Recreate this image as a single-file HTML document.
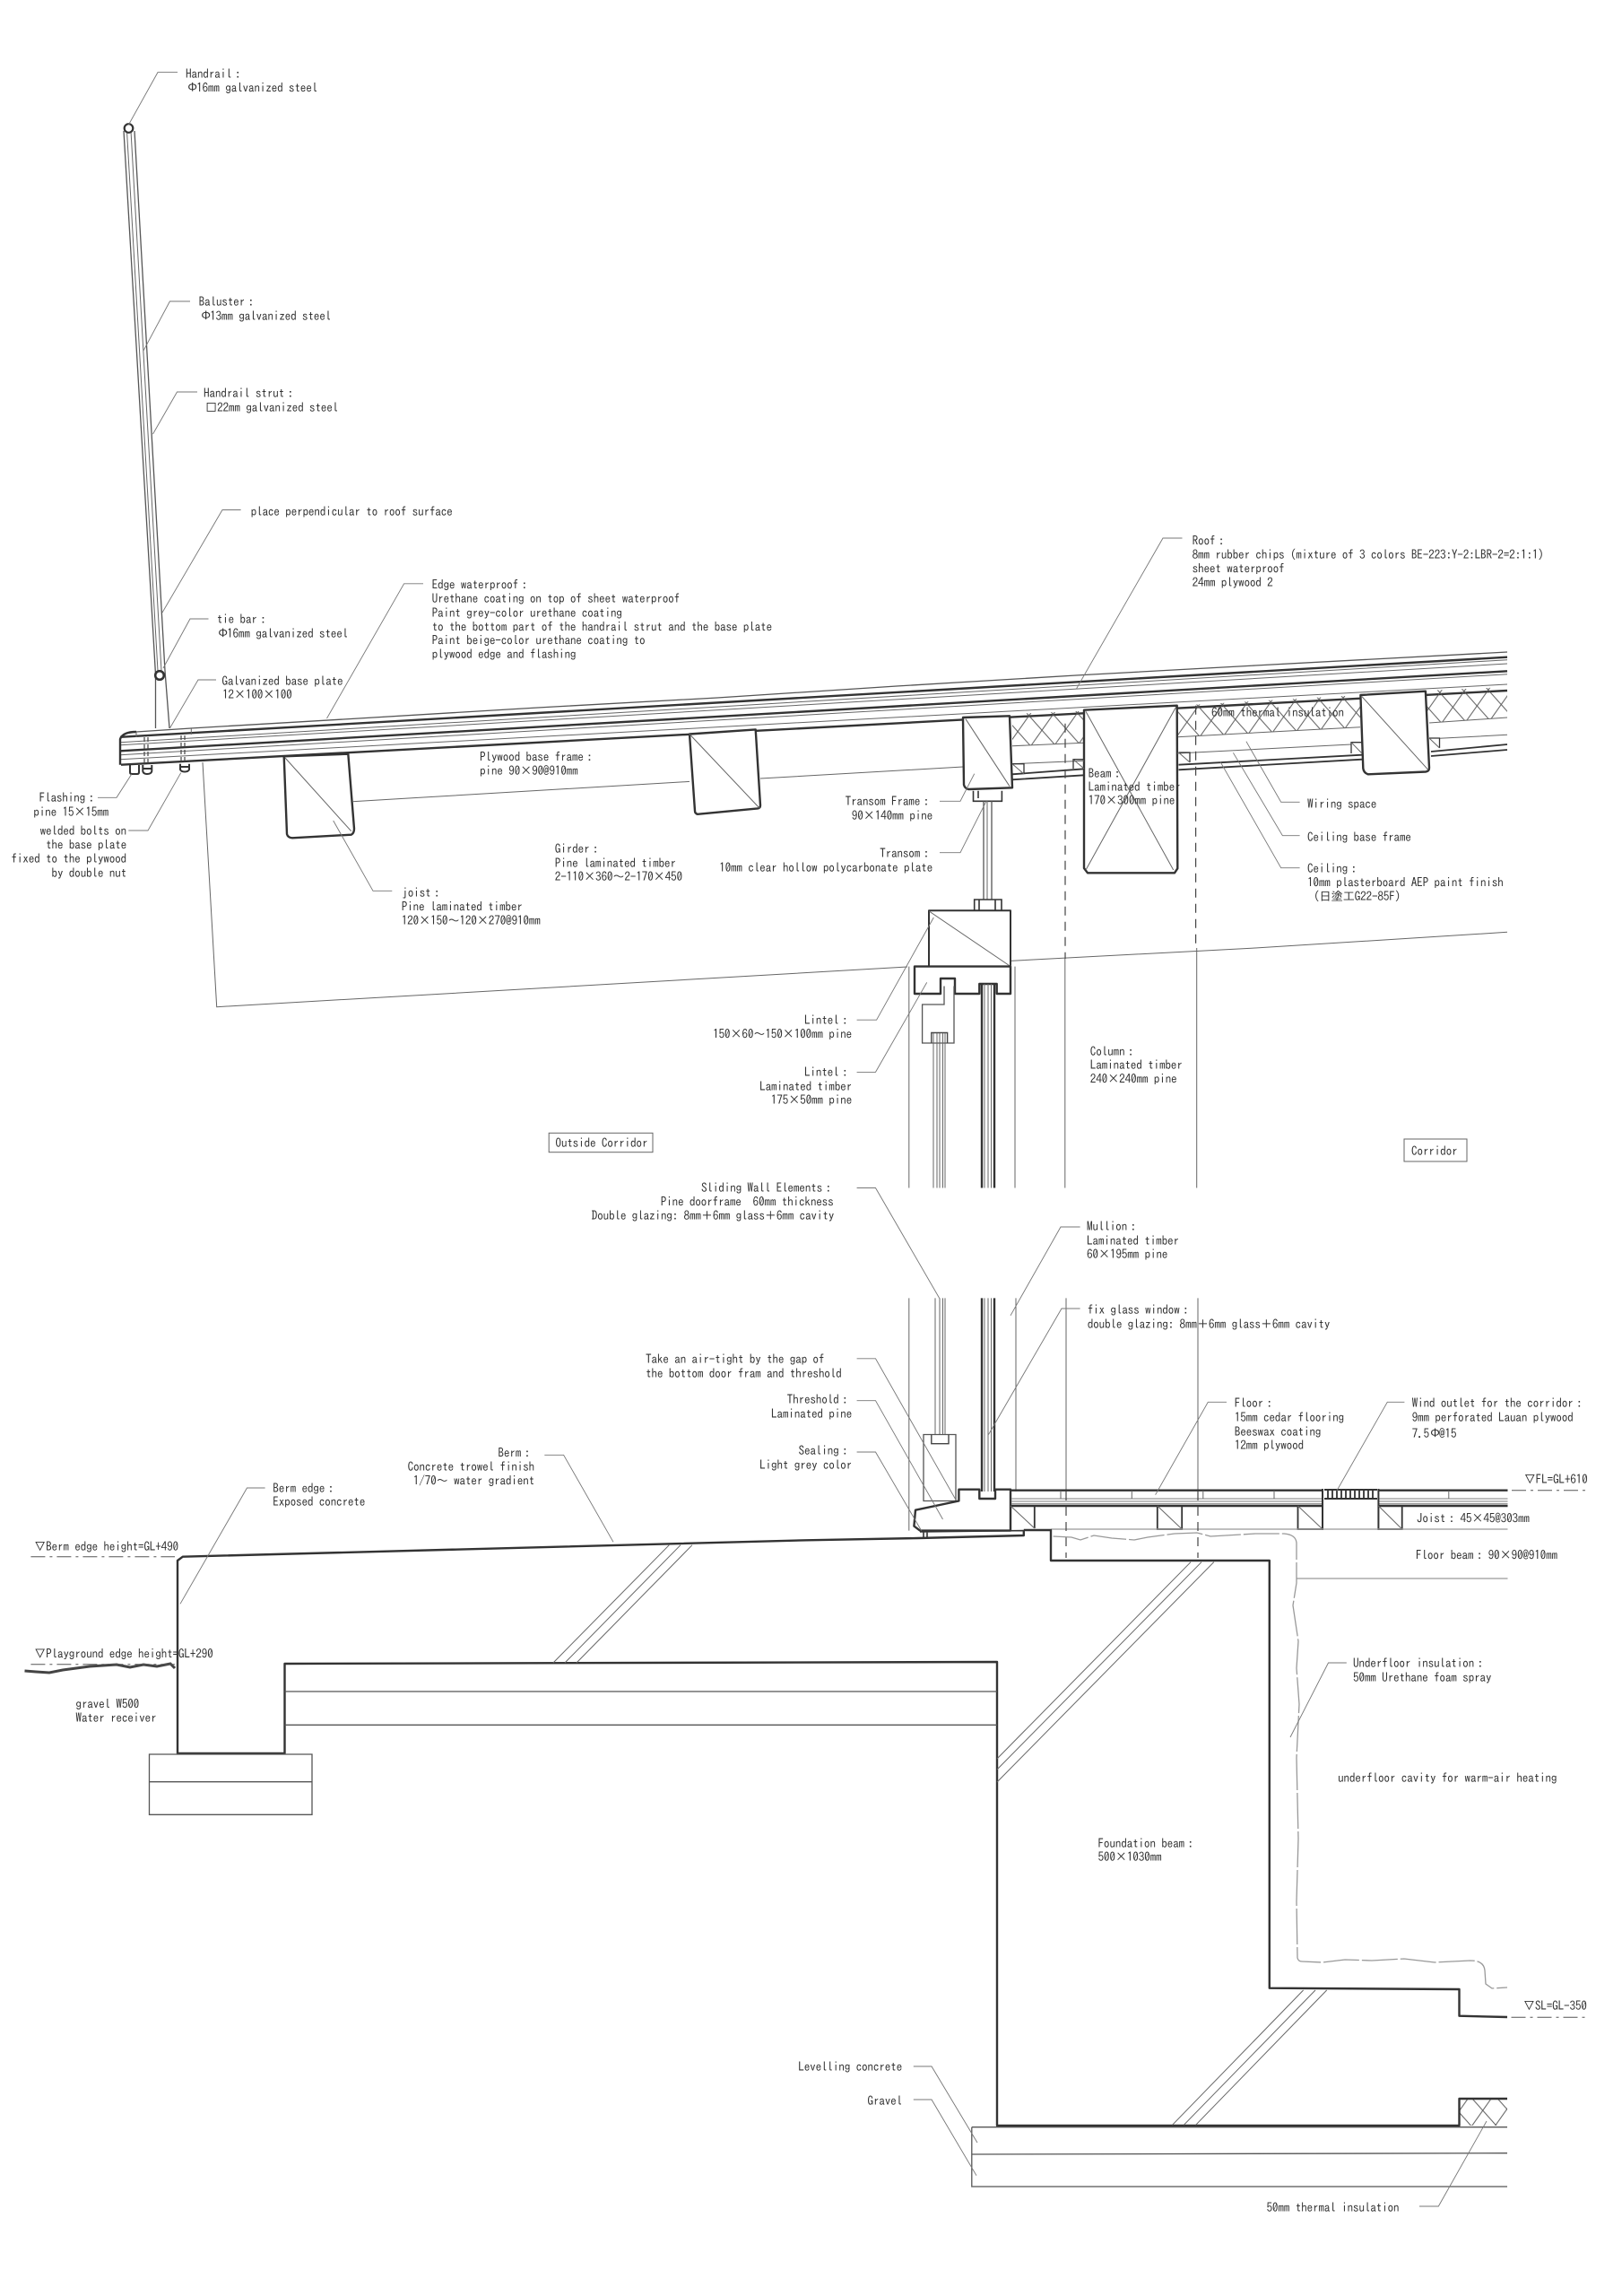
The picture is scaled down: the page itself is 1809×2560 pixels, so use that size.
<!DOCTYPE html>
<html><head><meta charset="utf-8"><title>Section detail</title>
<style>
html,body{margin:0;padding:0;background:#fff}
svg{display:block}
text{font-family:"IPAGothic","Liberation Mono","Noto Sans CJK JP",monospace;font-size:13.3px;letter-spacing:-.22px;fill:#333;white-space:pre}
.e{text-anchor:end}
.t{fill:none;stroke:#666;stroke-width:1}
.l{fill:none;stroke:#777;stroke-width:.9}
.m{fill:none;stroke:#555;stroke-width:1.3}
.h{fill:none;stroke:#333;stroke-width:2.4;stroke-linejoin:round}
.d{fill:none;stroke:#555;stroke-width:1;stroke-dasharray:16 5 3 5}
.v{fill:none;stroke:#444;stroke-width:1.2;stroke-dasharray:10 7}
.g{fill:none;stroke:#999;stroke-width:1.3}
</style></head><body>
<svg xmlns="http://www.w3.org/2000/svg" width="1809" height="2560" viewBox="0 0 1809 2560">
<defs>
<pattern id="x" width="27" height="34" patternUnits="userSpaceOnUse" patternTransform="rotate(-3.2 1129 796)">
<path d="M0 0L27 34M27 0L0 34" stroke="#555" stroke-width="1" fill="none"/>
</pattern>
</defs>
<rect width="1809" height="2560" fill="#fff"/>

<!-- handrail -->
<g>
<path class="m" d="M138 146L173.5 752V812M150 146L184 748L189 812"/>
<path class="t" d="M141.5 146L176 748M146 146L180 748"/>
<circle cx="143.5" cy="143" r="4.8" fill="#fff" stroke="#333" stroke-width="2.2"/>
<circle cx="178" cy="753" r="4.8" fill="#fff" stroke="#333" stroke-width="2.6"/>
</g>

<!-- roof layers -->
<path class="m" d="M152 816L213 812L400 801L600 789L800 778L1000 765L1200 753L1400 742L1681 727"/>
<path class="h" d="M134 821.8L1681 732.7"/>
<path class="t" d="M134 827.7L1681 735.7M134 830.7L1681 740"/>
<path class="h" d="M134 837.3L1681 748.3"/>
<path class="t" d="M134 841.7L1681 751.7M134 846.7L1681 763"/>
<path class="h" d="M135 852.7L1681 770"/>
<path class="h" d="M152 816Q137 816 134 824V852.7"/>
<path class="t" d="M152 816V822M213.3 812V819"/>
<!-- bolts -->
<path class="v" style="stroke-dasharray:5 3" d="M161 822V853M165 822V853M202 820V852M206 820V852"/>
<path d="M145 853V861Q145 863 147 863H153Q155 863 155 861V853M159.3 853V860Q160 863 164 863Q168.5 863 169.3 860V853M201 851.7V858Q202 860.5 206 860.5Q210 860.5 211 858V851.7M160 857H169M202 855H210" fill="none" stroke="#333" stroke-width="2"/>

<!-- joists / girders -->
<path class="h" style="fill:#fff" d="M316.7 843.3L388.3 840.7L395 924Q395 929 391.7 930.7L326 934.3Q321 934 320 930Z"/>
<path class="t" d="M318 845L391.7 926.7"/>
<path class="h" style="fill:#fff" d="M769 818.5L842.7 813.4L848 898Q848 901 845 901.4L778 907.8Q775 907 775 904Z"/>
<path class="t" d="M769 818.5L847 901"/>
<path class="t" d="M393 893.7L769 871.4M848 868L1074 855M226 850L241.7 1122.7L1012 1078M1127 1071.4L1400 1057L1681 1039.3"/>

<!-- insulation -->
<path fill="url(#x)" stroke="none" d="M1129 796L1209 792.7V828.3L1129 831.7Z"/>
<path fill="url(#x)" stroke="none" d="M1313 786.7L1517 775V810.7L1313 821.7Z"/>
<path fill="url(#x)" stroke="none" d="M1590 770L1681 766V800L1590 806Z"/>
<path fill="url(#x)" stroke="none" d="M1627.5 2340H1681V2370H1627.5Z"/>
<path class="t" d="M1129 831.7L1209 828.3M1313 821.7L1517 810.7M1594 806L1681 800"/>

<!-- transom frame -->
<path class="h" style="fill:#fff" d="M1074 800L1126 798.3L1129 878.3L1080 880Q1076 879 1075 875Z"/>
<path class="t" d="M1077 801.7L1126 876.7"/>
<path d="M1085.5 881.7V893.3H1117.4V881.7M1091 881.7V890" fill="none" stroke="#333" stroke-width="1.6"/>
<path class="m" d="M1097 893V1003M1106 893V1003"/><path class="t" d="M1101 893V1003"/>
<path d="M1086.7 1015V1003H1117V1015M1092 1003V1015M1110 1003V1015" fill="none" stroke="#333" stroke-width="1.6"/>

<!-- beam -->
<path class="h" style="fill:#fff" d="M1209 791.7L1312.7 786.7L1313.3 968.3L1310 973.3H1213L1209 968Z"/>
<path class="t" d="M1211 793.3L1308.7 970M1311.6 788.3L1211 970"/>
<!-- girder 3 -->
<path class="h" style="fill:#fff" d="M1517.4 775L1589.9 770.7L1594 856Q1594 860 1590 860.5L1526 863.3Q1521 862 1520.3 856.7Z"/>
<path class="t" d="M1519 776.7L1592.8 858.3"/>

<!-- ceilings -->
<path class="t" d="M1129 851.7L1209 848.3M1313 840L1507 830M1605.5 823.3L1681 819.3"/>
<path class="h" style="stroke-width:1.8" d="M1129 863.3L1209 857.3M1129 869.3L1209 864.3M1314.5 852.7L1519 841.7M1314.5 858.3L1519 846.7M1596 838L1681 830M1596 843L1681 836"/>
<path class="m" style="stroke:#333" d="M1129 851.7H1142V863M1197 857V846.7H1209M1314.5 839H1327V850M1507 840V827.7H1519M1594 823H1605.5V834"/>
<path class="t" d="M1129 851.7L1142 863M1197 846.7L1209 857M1314.5 839L1327 850M1507 827.7L1519 840M1594 823L1605.5 834"/>

<!-- column dashed upper -->
<path class="v" d="M1188 806.7V1069M1333.6 786.7V1057"/>
<path class="t" d="M1187.8 1069V1324.5M1334.7 1057V1324.5M1013.8 1077.6V1324.5M1132 1077.6V1324.5"/>

<!-- lintel -->
<path class="h" style="stroke-width:2" fill="#fff" d="M1036 1076.5V1015.3H1127V1076.5"/>
<path class="t" d="M1036.2 1016L1125.5 1076.5"/>
<path class="h" style="fill:#fff" d="M1020 1077.6H1127V1108H1111.7V1097H1092.3V1108H1065V1091H1049V1108H1020Z"/>
<path class="m" d="M1053 1099.5V1120H1028.6V1163H1064V1099.5"/>
<path d="M1038.8 1163V1151.5H1056.6V1163" fill="none" stroke="#444" stroke-width="1.4"/>
<path class="t" d="M1041 1152V1324.5M1045 1152V1324.5M1048 1152V1324.5M1051.5 1152V1324.5M1054 1152V1324.5"/>
<path class="h" d="M1095 1097V1324.5M1109 1097V1324.5"/>
<path class="t" d="M1098 1097V1324.5M1102 1097V1324.5M1105.5 1097V1324.5"/>

<!-- lower wall -->
<path class="t" d="M1013.8 1447.4V1706.6M1133 1447.4V1663M1189 1447.4V1663M1336 1447.4V1663"/>
<path class="t" d="M1043 1447.4V1600M1048 1447.4V1600M1051.5 1447.4V1600M1054 1447.4V1600"/>
<path class="h" d="M1095 1447.4V1663M1109 1447.4V1663"/>
<path class="t" d="M1098 1447.4V1663M1102 1447.4V1663M1105.5 1447.4V1663"/>
<path class="m" d="M1030 1599.5H1066V1673.5H1030Z"/>
<path d="M1038.8 1599.5V1609.7H1058V1599.5" fill="none" stroke="#444" stroke-width="1.4"/>
<!-- threshold -->
<path class="h" style="fill:#fff" d="M1127 1660.7H1110V1671H1092.3V1660.7H1069.4V1673.5L1021 1683.7L1019.4 1701.6L1026 1706.6H1127Z"/>
<path d="M1026 1708L1141.8 1706.6V1712.7M1030 1708V1716M1034 1708V1716" fill="none" stroke="#333" stroke-width="1.6"/>

<!-- floor -->
<path class="h" d="M1128 1661.7H1475M1537.4 1661.7H1681.5M1128 1679H1475M1537.4 1679H1681.5"/>
<path class="g" d="M1128 1671H1475M1128 1674H1475M1128 1676.6H1475M1537.4 1671H1681.5M1537.4 1674H1681.5M1537.4 1676.6H1681.5"/>
<path class="t" d="M1183 1662V1671M1262.3 1662V1671M1341.8 1662V1671M1421 1662V1671M1615.8 1662V1671"/>
<path class="h" style="stroke-width:2" d="M1475 1660V1706M1537.4 1660V1706M1477 1661H1536M1477 1671H1536"/>
<path d="M1481 1661V1671M1486 1661V1671M1491 1661V1671M1496 1661V1671M1501 1661V1671M1506 1661V1671M1511 1661V1671M1516 1661V1671M1521 1661V1671M1526 1661V1671M1531 1661V1671" stroke="#333" stroke-width="1.8"/>
<path d="M1153.8 1679V1704M1290.8 1679V1705H1318.2V1679M1447.5 1679V1705H1475M1537.4 1705H1563.7V1679" fill="none" stroke="#333" stroke-width="1.8"/>
<path class="t" d="M1127 1679L1153.8 1704M1290.8 1679L1318.2 1705M1447.5 1679L1475 1705M1537.4 1679L1563.7 1705"/>
<path class="g" d="M1172 1705H1681.5M1446 1760H1681.5"/>
<path class="v" d="M1189 1663V1737M1336 1663V1737"/>

<!-- foam line -->
<path class="g" stroke-dasharray="40 3" d="M1174.6 1713L1195 1714L1205 1717L1220 1712L1240 1715L1265 1717L1280 1714L1310 1710L1335 1709L1350 1713L1400 1710L1432 1710Q1445 1711 1446 1720V1765L1442 1790L1448 1830L1446 1860L1449 1900L1446 1960L1448 2050L1446 2120L1447 2183Q1448 2187 1452 2187L1475 2188L1500 2185L1530 2186L1566 2184L1600 2188L1640 2186Q1655 2186 1656 2197L1657 2212L1664 2217L1681 2216"/>

<!-- foundation & berm -->
<path class="h" d="M1141.8 1706H1172V1740H1415.8V2216.7L1627.5 2218V2247.7L1681 2249"/>
<path class="h" d="M1141.8 1706.6V1712L1024 1715L900 1717.3L203.8 1735.7L198 1740V1955H317.5V1855L1112 1853V2370H1627.5V2340H1681"/>
<path class="m" d="M317.5 1886L1112 1886M317.5 1923.3L1112 1923.3"/>
<path class="m" d="M1083.8 2371.7H1681M1083.8 2371.7V2438H1681M1083.8 2402L1681 2400.7"/>
<path class="m" d="M166.5 1956H348V2023.3H166.5ZM166.5 1986.7H348"/>
<path class="t" d="M746.3 1722.7L617 1854M759 1722.7L630 1854M772 1722.7L643 1854"/>
<path class="t" d="M1328 1741.7L1112 1961M1340 1741.7L1112 1973M1353.8 1741.7L1112 1987"/>
<path class="t" d="M1307.5 2369.3L1453.6 2219M1320.3 2369.3L1467 2219M1333.6 2369.3L1479.7 2219"/>
<path d="M27.5 1863L40 1864L55 1865L70 1862L85 1860L100 1858L115 1857L130 1856L145 1859L160 1856L175 1858L190 1855L195 1860" fill="none" stroke="#444" stroke-width="3"/>

<!-- level marks -->
<path class="d" d="M34.4 1735.7H195M34.4 1855.7H195M1686 1661.7H1772M1685.5 2249.3H1769.6"/>

<!-- leaders -->
<path class="l" d="M143.5 139L176 80.6H198M160 391L189.4 336H212M170.5 484L197.5 437H220M181 683L248 568.5H268.6M182 745L212 690H232.5M189.4 812L221 758H241M364.5 801L450.6 650.8H472M146.7 863.3L130 889.3H109M201.7 861.7L165 926H143.3M371.7 915L416 993.3H437.3"/>
<path class="l" d="M1200.3 768.3L1297 600H1318.5M1389.9 826.7L1428.7 894.3H1449.6M1375.4 839.3L1430.4 931.7H1449.6M1361 849.3L1428.7 967.7H1449.6M1086.7 862.7L1071 893.3H1048M1100 893.3L1071 950.7H1048"/>
<path class="l" d="M1041.3 1023L977.6 1137.2H955.6M1033.7 1095.4L976.5 1195.4H955.6M1048 1448L976.5 1324.5H955.6M1127 1466.8L1183 1368H1204.6M1102.5 1599.5L1184 1459H1204.6M1065.3 1671L976.5 1514.8H955.6M1051.5 1694L976.5 1561.7H955.6M1027.6 1706.6L976.5 1619H955.6"/>
<path class="l" d="M1288.6 1666.7L1347.3 1563.3H1368M1490.8 1662.3L1547.3 1563.3H1566.4M1439 1937L1481.5 1854H1501.8M201 1788.3L275.5 1659H295.6M684 1719.3L628.6 1622.3H607.3"/>
<path class="l" d="M1090 2389L1039 2304H1018.8M1089 2425.7L1039 2341H1018.8M1658 2365L1604.3 2460H1583"/>

<!-- boxes -->
<rect x="612.2" y="1263.3" width="115.8" height="21.4" fill="#fff" stroke="#666" stroke-width="1"/>
<rect x="1566" y="1270" width="70" height="25" fill="#fff" stroke="#666" stroke-width="1"/>

<!-- labels -->
<text x="207" y="87">Handrail <tspan dx="-3">:</tspan></text><text x="208" y="102.5">Φ<tspan dx="-2">16mm galvanized steel</tspan></text>
<text x="221.6" y="341">Baluster <tspan dx="-3">:</tspan></text><text x="223" y="357">Φ<tspan dx="-2">13mm galvanized steel</tspan></text>
<text x="227" y="443">Handrail strut <tspan dx="-3">:</tspan></text><text x="229" y="459">□22mm galvanized steel</text>
<text x="279.6" y="575">place perpendicular to roof surface</text>
<text x="241.7" y="695">tie bar <tspan dx="-3">:</tspan></text><text x="242" y="711">Φ<tspan dx="-2">16mm galvanized steel</tspan></text>
<text x="247.4" y="764">Galvanized base plate</text><text x="248" y="779">12×100×100</text>
<text x="481.6" y="656.5">Edge waterproof <tspan dx="-3">:</tspan></text><text x="481.6" y="672">Urethane coating on top of sheet waterproof</text><text x="481.6" y="688">Paint grey-color urethane coating</text><text x="481.6" y="703.5">to the bottom part of the handrail strut and the base plate</text><text x="481.6" y="718.5">Paint beige-color urethane coating to</text><text x="481.6" y="734">plywood edge and flashing</text>
<text x="43.6" y="894">Flashing <tspan dx="-3">:</tspan></text><text x="37.3" y="910">pine 15×15mm</text>
<text class="e" x="141" y="931">welded bolts on</text><text class="e" x="141" y="946.5">the base plate</text><text class="e" x="141" y="962">fixed to the plywood</text><text class="e" x="141" y="978">by double nut</text>
<text x="535" y="848.5">Plywood base frame <tspan dx="-3">:</tspan></text><text x="535" y="864">pine 90×90@910mm</text>
<text x="618.8" y="951">Girder <tspan dx="-3">:</tspan></text><text x="618.8" y="967">Pine laminated timber</text><text x="618.8" y="982">2-110×360～2-170×450</text>
<text x="448.3" y="1000">joist <tspan dx="-3">:</tspan></text><text x="447.7" y="1015.5">Pine laminated timber</text><text x="447.7" y="1031">120×150～120×270@910mm</text>
<text x="1329.6" y="607.5">Roof <tspan dx="-3">:</tspan></text><text x="1329.6" y="623">8mm rubber chips (mixture of 3 colors BE-223:Y-2:LBR-2=2:1:1)</text><text x="1329.6" y="638.5">sheet waterproof</text><text x="1329.6" y="654">24mm plywood 2</text>
<text x="1351" y="799">60mm thermal insulation</text>
<text x="1213.6" y="867">Beam <tspan dx="-3">:</tspan></text><text x="1213.6" y="882">Laminated timber</text><text x="1213.6" y="897">170×300mm pine</text>
<text x="1458" y="901">Wiring space</text><text x="1458" y="938">Ceiling base frame</text>
<text x="1458" y="973">Ceiling <tspan dx="-3">:</tspan></text><text x="1458" y="988.5">10mm plasterboard AEP paint finish</text><text x="1465" y="1004">(日塗工G22-85F)</text>
<text class="e" x="1036" y="898">Transom Frame <tspan dx="-3">:</tspan></text><text class="e" x="1040" y="914">90×140mm pine</text>
<text class="e" x="1036" y="956">Transom <tspan dx="-3">:</tspan></text><text class="e" x="1040" y="972">10mm clear hollow polycarbonate plate</text>
<text class="e" x="945.4" y="1142">Lintel <tspan dx="-3">:</tspan></text><text class="e" x="950" y="1157.5">150×60～150×100mm pine</text>
<text class="e" x="945.4" y="1200">Lintel <tspan dx="-3">:</tspan></text><text class="e" x="950" y="1216">Laminated timber</text><text class="e" x="950" y="1231">175×50mm pine</text>
<text x="1215.8" y="1177">Column <tspan dx="-3">:</tspan></text><text x="1215.8" y="1192">Laminated timber</text><text x="1215.8" y="1207.5">240×240mm pine</text>
<text x="619.4" y="1279">Outside Corridor</text><text x="1574" y="1288">Corridor</text>
<text x="782" y="1329">Sliding Wall Elements <tspan dx="-3">:</tspan></text><text x="736.7" y="1344.5">Pine doorframe  60mm thickness</text><text x="659.7" y="1360">Double glazing: 8mm＋6mm glass＋6mm cavity</text>
<text x="1212" y="1372">Mullion <tspan dx="-3">:</tspan></text><text x="1212" y="1388">Laminated timber</text><text x="1212" y="1403">60×195mm pine</text>
<text x="1212.7" y="1465">fix glass window <tspan dx="-3">:</tspan></text><text x="1212.7" y="1481">double glazing: 8mm＋6mm glass＋6mm cavity</text>
<text x="720" y="1520">Take an air-tight by the gap of</text><text x="720" y="1536">the bottom door fram and threshold</text>
<text class="e" x="945.4" y="1565">Threshold <tspan dx="-3">:</tspan></text><text class="e" x="950" y="1581">Laminated pine</text>
<text class="e" x="945.4" y="1622">Sealing <tspan dx="-3">:</tspan></text><text class="e" x="950" y="1638">Light grey color</text>
<text x="1376.8" y="1569">Floor <tspan dx="-3">:</tspan></text><text x="1376.8" y="1585">15mm cedar flooring</text><text x="1376.8" y="1601">Beeswax coating</text><text x="1376.8" y="1616">12mm plywood</text>
<text x="1574.6" y="1569">Wind outlet for the corridor <tspan dx="-3">:</tspan></text><text x="1574.6" y="1585">9mm perforated Lauan plywood</text><text x="1574.6" y="1603">7.5Φ<tspan dx="-2">@15</tspan></text>
<text x="1699.6" y="1654">▽FL=GL+610</text>
<text x="1580" y="1697.5">Joist <tspan dx="-3">:</tspan> 45×45@303mm</text><text x="1579" y="1738.5">Floor beam <tspan dx="-3">:</tspan> 90×90@910mm</text>
<text x="1509" y="1859">Underfloor insulation <tspan dx="-3">:</tspan></text><text x="1509" y="1875">50mm Urethane foam spray</text>
<text x="1492" y="1987">underfloor cavity for warm-air heating</text>
<text x="1224.5" y="2060">Foundation beam <tspan dx="-3">:</tspan></text><text x="1224.5" y="2075">500×1030mm</text>
<text x="38" y="1729">▽Berm edge height=GL+490</text><text x="38" y="1848.5">▽Playground edge height=GL+290</text>
<text x="84.4" y="1904.5">gravel W500</text><text x="84.4" y="1920">Water receiver</text>
<text x="304.3" y="1664">Berm edge <tspan dx="-3">:</tspan></text><text x="304.3" y="1679">Exposed concrete</text>
<text class="e" x="591" y="1624.5">Berm <tspan dx="-3">:</tspan></text><text class="e" x="596" y="1640">Concrete trowel finish</text><text class="e" x="596" y="1655.5">1/70～ water gradient</text>
<text class="e" x="1006" y="2309">Levelling concrete</text><text class="e" x="1006" y="2347">Gravel</text>
<text x="1412.5" y="2466">50mm thermal insulation</text>
<text x="1698.8" y="2241">▽SL=GL-350</text>
</svg>
</body></html>
